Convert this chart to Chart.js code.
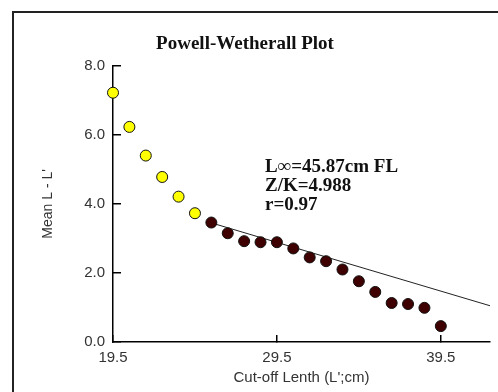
<!DOCTYPE html>
<html lang="en">

<head>
    <meta charset="UTF-8">
    <title>Powell-Wetherall Plot</title>
    <script src="https://cdn.jsdelivr.net/npm/chart.js"></script>
    <style>
        html, body { margin: 0; padding: 0; background: #fff; }
        #wrap { width: 498px; height: 392px; }
    </style>
</head>

<body>
    <div id="wrap"><canvas id="grafica" width="498" height="392"></canvas></div>
    <script>
        // --- Datos ---
        const cutoffLength = [19.5, 20.5, 21.5, 22.5, 23.5, 24.5, 25.5, 26.5, 27.5, 28.5, 29.5,
            30.5, 31.5, 32.5, 33.5, 34.5, 35.5, 36.5, 37.5, 38.5, 39.5];
        const meanDiff = [7.22, 6.23, 5.40, 4.78, 4.21, 3.73, 3.46, 3.15, 2.92, 2.89, 2.89,
            2.71, 2.45, 2.34, 2.10, 1.76, 1.45, 1.13, 1.10, 0.99, 0.46];
        const excludedCount = 6; // yellow points, not used in the fit
        const fitX = [25.5, 42.5];
        const fitY = [3.45, 1.05];
        const xTicks = [19.5, 29.5, 39.5];
        const yTicks = [0, 2, 4, 6, 8];
        const notes = ['L\u221E=45.87cm FL', 'Z/K=4.988', 'r=0.97'];

        const toPts = (xs, ys) => xs.map((x, i) => ({ x: x, y: ys[i] }));
        const allPts = toPts(cutoffLength, meanDiff);

        // marco exterior + textos de la regresion
        const extras = {
            id: 'extras',
            beforeDraw(chart) {
                const c = chart.ctx;
                c.save();
                c.strokeStyle = '#222';
                c.lineWidth = 2;
                c.strokeRect(13, 12, 520, 420);
                c.restore();
            },
            afterDraw(chart) {
                const c = chart.ctx;
                c.save();
                c.font = 'bold 19px "Liberation Serif"';
                c.fillStyle = '#111';
                c.textBaseline = 'middle';
                notes.forEach((t, i) => c.fillText(t, 265, 167 + i * 19));
                c.restore();
            }
        };

        new Chart(document.getElementById('grafica'), {
            type: 'scatter',
            data: {
                datasets: [{
                    label: 'Fit',
                    type: 'line',
                    data: toPts(fitX, fitY),
                    borderColor: '#222',
                    borderWidth: 1,
                    pointRadius: 0,
                    fill: false,
                    order: 2
                }, {
                    label: 'Excluded',
                    data: allPts.slice(0, excludedCount),
                    backgroundColor: '#ffff00',
                    borderColor: '#111',
                    borderWidth: 1,
                    pointRadius: 5.5,
                    clip: false,
                    order: 1
                }, {
                    label: 'Used',
                    data: allPts.slice(excludedCount),
                    backgroundColor: '#3e0000',
                    borderColor: '#111',
                    borderWidth: 1,
                    pointRadius: 5.5,
                    clip: false,
                    order: 1
                }]
            },
            options: {
                responsive: false,
                animation: false,
                layout: { padding: { left: 0, right: 8, top: 0, bottom: 0 } },
                plugins: {
                    legend: { display: false },
                    tooltip: { enabled: false },
                    title: {
                        display: true,
                        text: 'Powell-Wetherall Plot',
                        color: '#111',
                        font: { family: '"Liberation Serif"', size: 19, weight: 'bold' },
                        padding: { top: 33, bottom: 10 }
                    }
                },
                scales: {
                    x: {
                        type: 'linear',
                        min: 19.5,
                        max: 42.5,
                        afterBuildTicks: s => { s.ticks = xTicks.map(v => ({ value: v })); },
                        afterFit: s => { s.height = 50; },
                        ticks: {
                            callback: v => v.toFixed(1),
                            color: '#333',
                            font: { family: '"Liberation Sans"', size: 15 },
                            padding: 14,
                            maxRotation: 0
                        },
                        grid: { drawOnChartArea: false, tickLength: -7, color: '#000', lineWidth: 1.5 },
                        border: { color: '#000', width: 1.5 },
                        title: {
                            display: true,
                            text: "Cut-off Lenth (L';cm)",
                            color: '#333',
                            font: { family: '"Liberation Sans"', size: 15 },
                            padding: { top: 0, bottom: 5 }
                        }
                    },
                    y: {
                        min: 0,
                        max: 8,
                        afterBuildTicks: s => { s.ticks = yTicks.map(v => ({ value: v })); },
                        afterFit: s => { s.width = 113; },
                        ticks: {
                            callback: v => v.toFixed(1),
                            color: '#333',
                            font: { family: '"Liberation Sans"', size: 15 },
                            padding: 16
                        },
                        grid: { drawOnChartArea: false, tickLength: -8, color: '#000', lineWidth: 1.5 },
                        border: { color: '#000', width: 1.5 },
                        title: {
                            display: true,
                            text: "Mean L - L'",
                            color: '#333',
                            font: { family: '"Liberation Sans"', size: 14 },
                            padding: { top: 40, bottom: 0 }
                        }
                    }
                }
            },
            plugins: [extras]
        });
    </script>
</body>

</html>
